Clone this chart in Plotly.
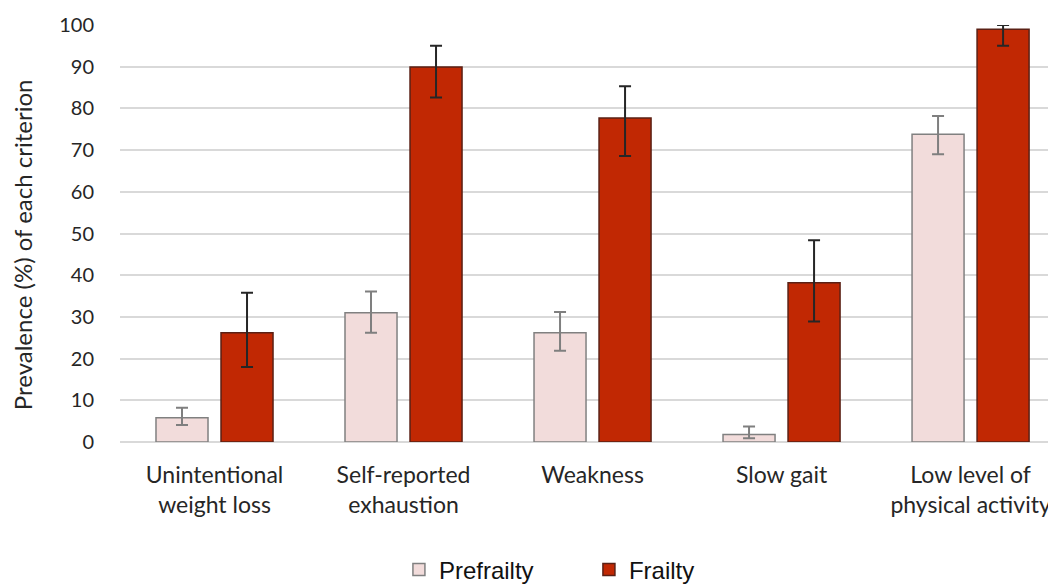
import plotly.graph_objects as go

categories = ["Unintentional<br>weight loss", "Self-reported<br>exhaustion", "Weakness",
              "Slow gait", "Low level of<br>physical activity"]
prefrailty = [5.8, 31.0, 26.2, 1.8, 73.8]
prefrailty_hi = [8.2, 36.1, 31.2, 3.7, 78.2]
prefrailty_lo = [4.1, 26.2, 21.9, 0.9, 69.0]
frailty = [26.2, 89.9, 77.7, 38.2, 99.0]
frailty_hi = [35.8, 95.0, 85.3, 48.4, 100.0]
frailty_lo = [18.0, 82.6, 68.6, 28.9, 95.0]
y_ticks = list(range(0, 101, 10))
y_title = "Prevalence (%) of each criterion"

def up(v, hi):
    return [h - x for x, h in zip(v, hi)]

def down(v, lo):
    return [x - l for x, l in zip(v, lo)]

fig = go.Figure()
fig.add_trace(go.Bar(
    name="Prefrailty", x=categories, y=prefrailty,
    marker=dict(color="#F2DCDB", line=dict(color="#808080", width=1.5)),
    error_y=dict(type="data", symmetric=False, array=up(prefrailty, prefrailty_hi),
                 arrayminus=down(prefrailty, prefrailty_lo), color="#7F7F7F",
                 thickness=2, width=6),
))
fig.add_trace(go.Bar(
    name="Frailty", x=categories, y=frailty,
    marker=dict(color="#C12803", line=dict(color="#5A2015", width=1.5)),
    error_y=dict(type="data", symmetric=False, array=up(frailty, frailty_hi),
                 arrayminus=down(frailty, frailty_lo), color="#262626",
                 thickness=2, width=6),
))

fig.update_layout(
    width=1048, height=576,
    margin=dict(l=112, r=0, t=17, b=142, autoexpand=False),
    paper_bgcolor="white", plot_bgcolor="white",
    barmode="group", bargap=0.312, bargroupgap=0.2,
    font=dict(family="Lato, Open Sans, sans-serif", size=21, color="#262626"),
    showlegend=True,
    legend=dict(orientation="h", x=0.298, xanchor="left", y=-0.307, yanchor="middle",
                font=dict(family="Liberation Sans, Arial, sans-serif", size=24, color="#111111"),
                itemwidth=30, entrywidth=145, entrywidthmode="pixels", traceorder="normal"),
    annotations=[dict(text=y_title, textangle=-90, xref="paper", yref="paper",
                      x=-0.1047, y=0.472, xanchor="center", yanchor="middle",
                      showarrow=False, font=dict(size=24, color="#262626"))],
)
fig.update_xaxes(
    range=[-0.5, 4.452], showgrid=False, showline=False, ticks="", automargin=False,
    tickfont=dict(size=23), ticklabelstandoff=17,
)
fig.update_yaxes(
    range=[0, 100], tickvals=y_ticks, showgrid=True, gridcolor="#D9D9D9", gridwidth=1.5,
    zeroline=True, zerolinecolor="#D9D9D9", zerolinewidth=1.5, automargin=False,
    showline=False, ticks="", tickfont=dict(size=20), ticklabelstandoff=25,
)

fig.write_html("out.html")
